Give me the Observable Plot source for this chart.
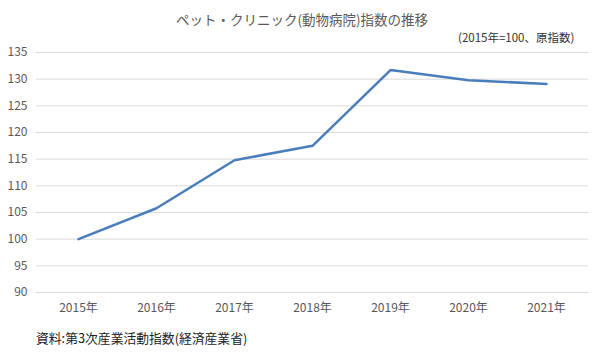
<!DOCTYPE html>
<html>
<head>
<meta charset="utf-8">
<script src="https://cdn.jsdelivr.net/npm/d3@7"></script>
<script src="https://cdn.jsdelivr.net/npm/@observablehq/plot@0.6"></script>
<style>
  html, body { margin: 0; padding: 0; background: #fff; }
  #wrap { position: relative; width: 600px; height: 360px; font-family: "Noto Sans CJK JP", "Noto Sans", sans-serif; }
  .t { position: absolute; white-space: nowrap; line-height: 1; }
  #title { left: 0; width: 604px; text-align: center; top: 13px; font-size: 13.5px; color: #595959; }
  #sub { left: 458px; top: 32px; font-size: 11.5px; color: #333; }
  #cap { left: 36px; top: 332px; font-size: 12.8px; color: #222; }
  #chart { position: absolute; left: 0; top: 0; }
</style>
</head>
<body>
<div id="wrap">
  <div id="chart"></div>
  <div class="t" id="title">ペット・クリニック(動物病院)指数の推移</div>
  <div class="t" id="sub">(2015年=100、原指数)</div>
  <div class="t" id="cap">資料:第3次産業活動指数(経済産業省)</div>
</div>
<script>
const years = ["2015年", "2016年", "2017年", "2018年", "2019年", "2020年", "2021年"];
const values = [100, 105.8, 114.8, 117.5, 131.7, 129.8, 129.1];
const yTicks = [90, 95, 100, 105, 110, 115, 120, 125, 130, 135];

const data = years.map((y, i) => ({year: y, value: values[i]}));

const chart = Plot.plot({
  width: 600,
  height: 360,
  marginLeft: 36,
  marginRight: 12,
  marginTop: 52,
  marginBottom: 68,
  style: {fontFamily: '"Noto Sans CJK JP", "Noto Sans", sans-serif', fontSize: "12px", color: "#595959", background: "white"},
  x: {type: "point", domain: years, padding: 0.5, label: null},
  y: {domain: [90, 135], ticks: yTicks, label: null},
  marks: [
    Plot.ruleY(yTicks, {stroke: "#d9d9d9", strokeWidth: 1}),
    Plot.axisY({ticks: yTicks, tickSize: 0, tickPadding: 9, label: null, fill: "#595959"}),
    Plot.axisX({tickSize: 0, tickPadding: 11, label: null, fill: "#595959"}),
    Plot.line(data, {x: "year", y: "value", stroke: "#4a7ebb", strokeWidth: 2.5, strokeLinejoin: "round"})
  ]
});
document.getElementById("chart").appendChild(chart);
</script>
</body>
</html>
